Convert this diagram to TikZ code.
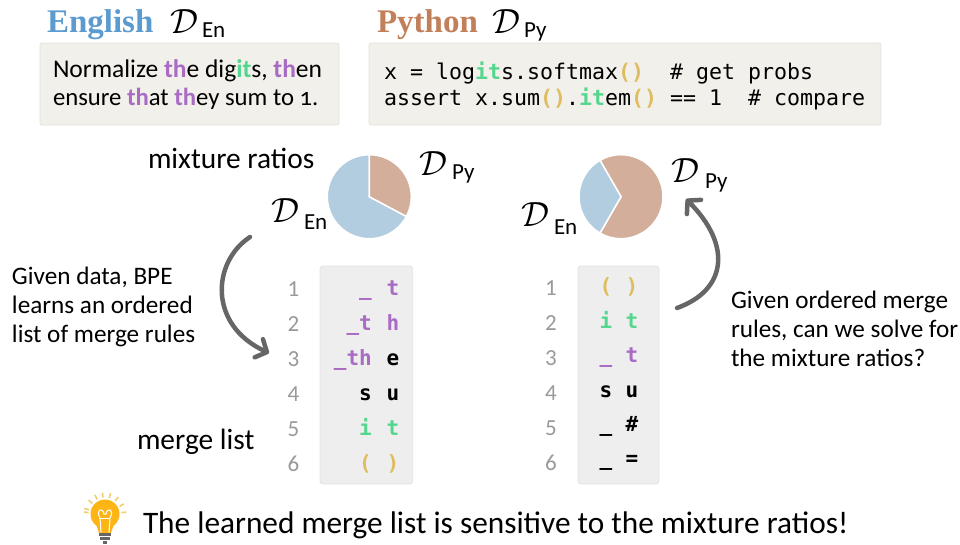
\RequirePackage{fix-cm}
\documentclass[tikz,border=0pt]{standalone}
\usepackage{fontspec}
\setmainfont[Numbers=OldStyle]{Carlito}
\newfontfamily\headfont{Liberation Serif}
\setmonofont{DejaVu Sans Mono}
\usetikzlibrary{arrows.meta}
\definecolor{cpur}{HTML}{A96BC4}
\definecolor{cgrn}{HTML}{55D68F}
\definecolor{cyel}{HTML}{E0BC60}
\definecolor{cblue}{HTML}{5B9BD0}
\definecolor{cbrown}{HTML}{C17F5A}
\definecolor{pieblue}{HTML}{B3CDE0}
\definecolor{piebrown}{HTML}{D3AF9B}
\definecolor{boxfill}{HTML}{F2F0EA}
\definecolor{boxline}{HTML}{E2E1DC}
\definecolor{mfill}{HTML}{EEEEEE}
\definecolor{mline}{HTML}{E2E2E2}
\definecolor{numgray}{HTML}{999999}
\definecolor{arrgray}{HTML}{666666}
\definecolor{bulb}{HTML}{FDB515}
\definecolor{ray}{HTML}{F2CC6E}
\newcommand{\pu}[1]{\textcolor{cpur}{\bfseries #1}}
\newcommand{\gr}[1]{\textcolor{cgrn}{\bfseries #1}}
\newcommand{\ye}[1]{\textcolor{cyel}{\bfseries #1}}
\newcommand{\fsz}[1]{\fontsize{#1}{#1}\selectfont}
\tikzset{
  lbl/.style={inner sep=0pt,outer sep=0pt,anchor=base west,text=black},
  head/.style={lbl,font=\headfont\bfseries\fsz{33}},
  dcal/.style={lbl,font=\fsz{35}},
  dsub/.style={lbl,font=\fsz{23}},
  body/.style={lbl,font=\fsz{25.5}},
  bodyb/.style={lbl,font=\fsz{24.7}},
  side/.style={lbl,font=\fsz{25.2}},
  big/.style={lbl,font=\fsz{29.4}},
  code/.style={lbl,font=\ttfamily\fsz{21.6}},
  num/.style={inner sep=0pt,anchor=base,text=numgray,font=\fsz{23}\addfontfeatures{Numbers=Lining}},
  lt/.style={inner sep=0pt,anchor=base east,font=\ttfamily\bfseries\fsz{21}},
  rt/.style={inner sep=0pt,anchor=base,font=\ttfamily\bfseries\fsz{21}},
  tbox/.style={draw=boxline,fill=boxfill,rounded corners=2pt,line width=0.8pt},
  mbox/.style={draw=mline,fill=mfill,rounded corners=3pt,line width=0.8pt},
  bigarr/.style={draw=arrgray,line width=4.5pt,line cap=round,-{Straight Barb[length=9pt,width=20pt,line width=4.5pt,round]}},
  slice/.style={draw=white,line width=1.5pt,line join=miter},
}
\begin{document}
\begin{tikzpicture}[x=1pt,y=-1pt]
\useasboundingbox (0,0) rectangle (960,544);
% text boxes
\draw[tbox] (40,43) rectangle (339,125);
\draw[tbox] (369,43) rectangle (881,125);
% titles
\node[head,text=cblue] (tEn) at (47,32) {English};
\node[dcal] (dEn) at (170,33) {$\mathcal{D}$};
\node[dsub] (sEn) at (202,37) {En};
\node[head,text=cbrown] (tPy) at (377,32) {Python};
\node[dcal] (dPy) at (492,33) {$\mathcal{D}$};
\node[dsub] (sPy) at (524,37) {Py};
% English text
\node[body] (e1) at (53,77) {Normalize \pu{th}e dig\gr{it}s, \pu{th}en};
\node[bodyb] (e2) at (53,105) {ensure \pu{th}at \pu{th}ey sum to 1.};
% code
\node[code] (c1) at (384,79) {x = log\gr{it}s.softmax\ye{()}\ \ \# get probs};
\node[code] (c2) at (384,105) {assert x.sum\ye{()}.\gr{it}em\ye{()} == 1\ \ \# compare};
% pies
\fill[pieblue,slice] (369.3,196.7) -- +(28:42) arc (28:270:42) -- cycle;
\fill[piebrown,slice] (369.3,196.7) -- +(-90:42) arc (-90:28:42) -- cycle;
\fill[piebrown,slice] (621,196.7) -- +(-120:42) arc (-120:120:42) -- cycle;
\fill[pieblue,slice] (621,196.7) -- +(120:42) arc (120:240:42) -- cycle;
% labels around pies
\node[big] (mix) at (148,168) {mixture ratios};
\node[dcal] (d1) at (419,175) {$\mathcal{D}$};
\node[dsub] (d1s) at (452,179) {Py};
\node[dcal] (d2) at (271,222) {$\mathcal{D}$};
\node[dsub] (d2s) at (304,229) {En};
\node[dcal] (d3) at (521,226) {$\mathcal{D}$};
\node[dsub] (d3s) at (554,234) {En};
\node[dcal] (d4) at (671,182) {$\mathcal{D}$};
\node[dsub] (d4s) at (705,188) {Py};
% side text
\node[side] (g1) at (12,284) {Given data, BPE};
\node[side] (g2) at (12,313) {learns an ordered};
\node[side] (g3) at (12,342) {list of merge rules};
\node[side] (h1) at (731,308) {Given ordered merge};
\node[side] (h2) at (731,337) {rules, can we solve for};
\node[side] (h3) at (731,366) {the mixture ratios?};
\node[big] (ml) at (137,449) {merge list};
% merge boxes
\draw[mbox] (320,266) rectangle (412.7,484);
\draw[mbox] (578,266) rectangle (659,484);
% numbers
\foreach \i/\y in {1/296,2/331,3/366,4/401,5/436,6/471}{
  \node[num] (a\i) at (293.5,\y) {\i};
  \node[num] (b\i) at (551,\y-1) {\i};
}
% left list
\node[lt,text=cpur] (l1a) at (372,295) {\_};
\node[rt,text=cpur] (l1b) at (393,295) {t};
\node[lt,text=cpur] (l2a) at (372,330) {\_t};
\node[rt,text=cpur] (l2b) at (393,330) {h};
\node[lt,text=cpur] (l3a) at (372,365) {\_th};
\node[rt,text=black] (l3b) at (393,365) {e};
\node[lt,text=black] (l4a) at (372,400) {s};
\node[rt,text=black] (l4b) at (393,400) {u};
\node[lt,text=cgrn] (l5a) at (372,435) {i};
\node[rt,text=cgrn] (l5b) at (393,435) {t};
\node[lt,text=cyel] (l6a) at (372,470) {(};
\node[rt,text=cyel] (l6b) at (393,470) {)};
% right list
\node[rt,text=cyel] (r1a) at (606,293) {(};
\node[rt,text=cyel] (r1b) at (632,293) {)};
\node[rt,text=cgrn] (r2a) at (606,328) {i};
\node[rt,text=cgrn] (r2b) at (632,328) {t};
\node[rt,text=cpur] (r3a) at (606,362) {\_};
\node[rt,text=cpur] (r3b) at (632,362) {t};
\node[rt,text=black] (r4a) at (606,397) {s};
\node[rt,text=black] (r4b) at (632,397) {u};
\node[rt,text=black] (r5a) at (606,431) {\_};
\node[rt,text=black] (r5b) at (632,431) {\#};
\node[rt,text=black] (r6a) at (606,465) {\_};
\node[rt,text=black] (r6b) at (632,465) {=};
% arrows
\coordinate (a1s) at (250,237);
\coordinate (a1e) at (269,353);
\coordinate (a2s) at (677,308);
\coordinate (a2e) at (686,199);
\draw[bigarr] (a1s) .. controls (212,262) and (208,325) .. (a1e);
\draw[bigarr] (a2s) .. controls (727,290) and (732,245) .. (a2e);
% bulb
\foreach \a in {-165,-140,-118,-97,-75,-52,-28,-5,185}{
  \draw[ray,line width=1.6pt] (105,514) ++(\a:16.5) -- ++(\a:5);
}
\fill[bulb] (105,514) circle (14.5);
\fill[bulb] (96,524) -- (114,524) -- (111,533) -- (99,533) -- cycle;
\draw[white,line width=1pt,line cap=round] (101,532) -- (100,518) .. controls (95,509) and (103,507) .. (104,514) -- (106,514) .. controls (107,507) and (115,509) .. (110,518) -- (109,532);
\draw[white,line width=.8pt] (100,518) -- (110,518);
\fill[arrgray] (99,533) rectangle (111,536);
\fill[arrgray] (100,537) rectangle (110,540);
\fill[arrgray] (103,541) rectangle (107,543.5);
% bottom line
\node[lbl,font=\fsz{31.3}] (bt) at (143,533) {The learned merge list is sensitive to the mixture ratios!};
\end{tikzpicture}
\end{document}
